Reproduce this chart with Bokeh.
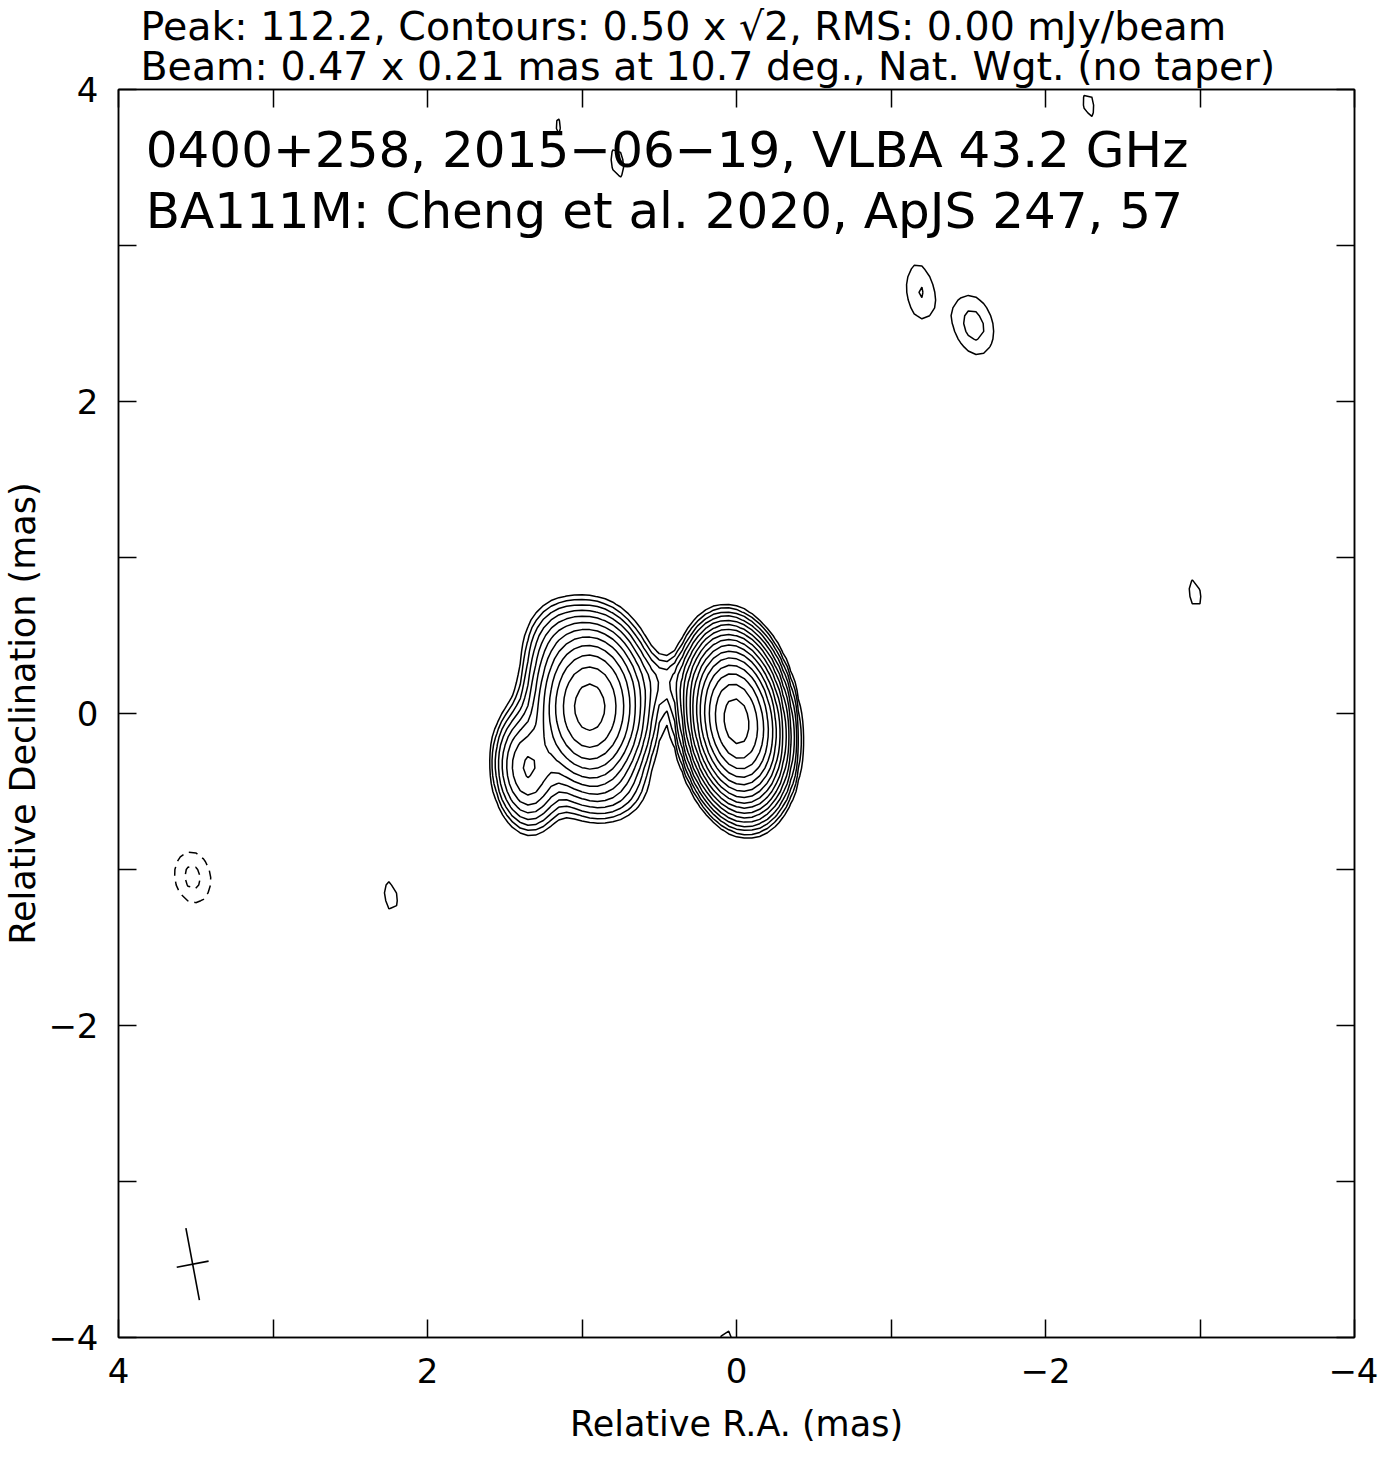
import numpy as np
from bokeh.plotting import figure
from bokeh.models import Range1d, LinearAxis, FixedTicker, Title, Label
from bokeh.embed import file_html
from bokeh.resources import INLINE

# ---------------- data ----------------
header_line1 = "Peak: 112.2, Contours: 0.50 x \u221a2, RMS: 0.00 mJy/beam"
header_line2 = "Beam: 0.47 x 0.21 mas at 10.7 deg., Nat. Wgt. (no taper)"
source_line1 = "0400+258, 2015\u221206\u221219, VLBA 43.2 GHz"
source_line2 = "BA111M: Cheng et al. 2020, ApJS 247, 57"
x_label = "Relative R.A. (mas)"
y_label = "Relative Declination (mas)"

# contour levels: 0.50 mJy/beam x sqrt(2)^n up to the 112.2 peak
pos_levels = [0.50, 0.707, 1.0, 1.414, 2.0, 2.828, 4.0, 5.657, 8.0, 11.31,
              16.0, 22.63, 32.0, 45.25, 64.0, 90.51]
neg_levels = [-0.707, -0.50]

# tick positions / labels (mas)
tick_values = [-4, -3, -2, -1, 0, 1, 2, 3, 4]
tick_labels = {-4: "\u22124", -3: "", -2: "\u22122", -1: "", 0: "0",
               1: "", 2: "2", 3: "", 4: "4"}
blank_labels = {-4: "", -3: "", -2: "", -1: "", 0: "",
                1: "", 2: "", 3: "", 4: ""}

# restoring beam (FWHM, mas; PA deg) and where it is drawn
beam_major = 0.47
beam_minor = 0.21
beam_pa = 10.7
beam_x = 3.52
beam_y = -3.53

# image components (restored Gaussians): RA offset, Dec offset (mas),
# peak (mJy/beam), major / minor FWHM (mas), PA (deg)
comp_name = ["core", "L1", "L2", "L3", "bridge", "L4",
             "n1", "n2", "n3", "n4", "n5", "neg", "n7", "n8", "n9"]
comp_x    = [0.00, 0.95, 1.36, 1.17, 0.45, 0.80,
             -2.28, -1.18, -1.535, -2.965, 2.24, 3.52, 0.06, 0.77, 1.16]
comp_y    = [-0.05, 0.04, -0.36, 0.47, 0.21, -0.50,
             3.90, 2.71, 2.49, 0.77, -1.17, -1.05, -4.03, 3.53, 3.77]
comp_peak = [111.0, 27.0, 5.6, 1.0, 0.8, 0.8,
             0.542, 0.708, 0.80, 0.551, 0.561, -0.78, 0.55, 0.56, 0.54]
comp_maj  = [0.54, 0.59, 0.45, 0.38, 0.25, 0.35,
             0.47, 0.47, 0.47, 0.47, 0.47, 0.41, 0.47, 0.47, 0.35]
comp_min  = [0.30, 0.39, 0.25, 0.30, 0.35, 0.30,
             0.21, 0.22, 0.30, 0.21, 0.21, 0.29, 0.21, 0.21, 0.15]
comp_pa   = [8.0, 0.0, 5.0, 0.0, 0.0, 90.0,
             10.7, 5.0, 15.0, 10.7, 10.7, 10.0, 10.7, 10.7, 10.7]

# map grid (mas)
map_min, map_max, map_step = -4.0, 4.0, 0.05

# ---------------- build the map ----------------
gx = np.arange(map_min, map_max + map_step / 2, map_step)
gy = np.arange(map_min, map_max + map_step / 2, map_step)
X, Y = np.meshgrid(gx, gy)
Z = np.zeros_like(X)
for x0, y0, pk, mj, mn, pa in zip(comp_x, comp_y, comp_peak, comp_maj, comp_min, comp_pa):
    t = np.radians(pa)
    dx, dy = X - x0, Y - y0
    u = dx * np.sin(t) + dy * np.cos(t)
    v = dx * np.cos(t) - dy * np.sin(t)
    Z += pk * np.exp(-4 * np.log(2) * (u ** 2 / mj ** 2 + v ** 2 / mn ** 2))

FONT = "DejaVu Sans"

p = figure(width=1378, height=1456, output_backend="svg", toolbar_location=None,
           x_range=Range1d(4, -4), y_range=Range1d(-4, 4),
           min_border_left=118, min_border_right=24, min_border_top=89,
           min_border_bottom=119)
p.background_fill_color = "white"
p.border_fill_color = "white"
p.grid.visible = False
p.outline_line_color = "black"
p.outline_line_width = 1.5


def style_axis(ax, show_labels):
    ax.ticker = FixedTicker(ticks=tick_values)
    ax.major_tick_in = 18
    ax.major_tick_out = 0
    ax.minor_tick_in = 0
    ax.minor_tick_out = 0
    ax.axis_line_color = "black"
    ax.axis_line_width = 1.5
    ax.major_tick_line_color = "black"
    ax.major_tick_line_width = 1.5
    ax.major_label_text_font = FONT
    ax.axis_label_text_font = FONT
    ax.axis_label_text_font_style = "normal"
    ax.axis_label_text_color = "black"
    if show_labels:
        ax.major_label_overrides = tick_labels
        ax.major_label_text_color = "black"
        ax.major_label_text_font_size = "34px"
        ax.axis_label_text_font_size = "35px"
    else:
        ax.major_label_overrides = blank_labels
        ax.major_label_text_color = None
        ax.major_label_text_font_size = "0px"
        ax.major_label_standoff = 0


style_axis(p.xaxis[0], True)
style_axis(p.yaxis[0], True)
p.xaxis[0].axis_label = x_label
p.yaxis[0].axis_label = y_label
p.xaxis[0].major_label_standoff = 20
p.yaxis[0].major_label_standoff = 20
p.xaxis[0].axis_label_standoff = 18
p.yaxis[0].axis_label_standoff = 2
p.yaxis[0].major_label_orientation = "horizontal"

ax_top = LinearAxis()
style_axis(ax_top, False)
p.add_layout(ax_top, "above")
ax_right = LinearAxis()
style_axis(ax_right, False)
p.add_layout(ax_right, "right")

# two-line header above the frame
head = Title(text=header_line1 + "\n" + header_line2, align="left", offset=22,
             text_font=FONT, text_font_size="39.5px", text_font_style="normal",
             text_color="black", text_line_height=0.88, standoff=0)
p.add_layout(head, "above")

# contours
p.contour(gx, gy, Z, levels=pos_levels, line_color="black", line_width=1.5,
          fill_color=None)
p.contour(gx, gy, Z, levels=neg_levels, line_color="black", line_width=1.5,
          line_dash="9 6", fill_color=None)

# beam cross
t = np.radians(beam_pa)
bx0 = [beam_x - beam_major / 2 * np.sin(t), beam_x - beam_minor / 2 * np.cos(t)]
by0 = [beam_y - beam_major / 2 * np.cos(t), beam_y + beam_minor / 2 * np.sin(t)]
bx1 = [beam_x + beam_major / 2 * np.sin(t), beam_x + beam_minor / 2 * np.cos(t)]
by1 = [beam_y + beam_major / 2 * np.cos(t), beam_y - beam_minor / 2 * np.sin(t)]
p.segment(bx0, by0, bx1, by1, line_color="black", line_width=1.6)

# source labels inside the frame
p.add_layout(Label(x=3.824, y=3.609, text=source_line1, text_font=FONT,
                   text_font_size="50px", text_color="black", text_baseline="alphabetic"))
p.add_layout(Label(x=3.824, y=3.224, text=source_line2, text_font=FONT,
                   text_font_size="50px", text_color="black", text_baseline="alphabetic"))

open("out.html", "w").write(file_html(p, INLINE))
